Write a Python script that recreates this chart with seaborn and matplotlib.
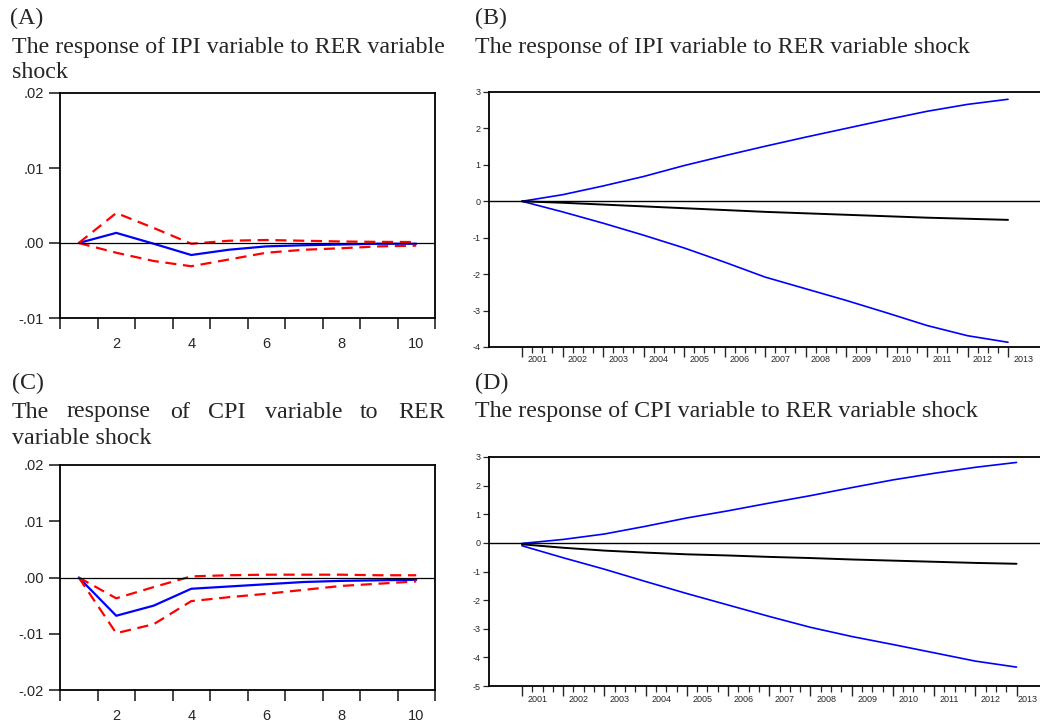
import matplotlib
matplotlib.use("Agg")
import matplotlib.pyplot as plt
import seaborn as sns
import numpy as np

# panel A / C: impulse responses over 10 periods
periods = [1, 2, 3, 4, 5, 6, 7, 8, 9, 10]
ipi_resp = [0, 0.00135, -0.0001, -0.0016, -0.0009, -0.00045, -0.0003, -0.0002, -0.0001, -0.0001]
ipi_upper = [0, 0.0040, 0.0020, -0.0001, 0.0003, 0.0004, 0.0003, 0.0002, 0.00015, 0.00013]
ipi_lower = [0, -0.0013, -0.0024, -0.0031, -0.0022, -0.0013, -0.0009, -0.0007, -0.00045, -0.00035]

cpi_resp = [0, -0.0068, -0.0050, -0.0020, -0.0016, -0.0012, -0.0008, -0.0006, -0.0005, -0.0004]
cpi_upper = [0, -0.0037, -0.0017, 0.0002, 0.0004, 0.0005, 0.0005, 0.0005, 0.0004, 0.0004]
cpi_lower = [0, -0.0099, -0.0083, -0.0042, -0.0035, -0.0029, -0.0022, -0.0015, -0.0011, -0.0007]

# panel B / D: yearly readings 2001..2013
years = [2001, 2002, 2003, 2004, 2005, 2006, 2007, 2008, 2009, 2010, 2011, 2012, 2013]
b_upper = [0, 0.18, 0.42, 0.68, 0.98, 1.25, 1.51, 1.76, 2.0, 2.24, 2.47, 2.66, 2.80]
b_lower = [0, -0.29, -0.6, -0.93, -1.28, -1.67, -2.08, -2.40, -2.72, -3.06, -3.41, -3.69, -3.87]
b_irf = [0, -0.04, -0.09, -0.14, -0.19, -0.24, -0.29, -0.33, -0.37, -0.41, -0.45, -0.48, -0.51]

d_upper = [-0.02, 0.12, 0.31, 0.58, 0.87, 1.12, 1.39, 1.65, 1.93, 2.2, 2.43, 2.64, 2.81]
d_lower = [-0.1, -0.52, -0.92, -1.35, -1.77, -2.17, -2.57, -2.95, -3.27, -3.55, -3.84, -4.13, -4.34]
d_irf = [-0.05, -0.17, -0.27, -0.34, -0.40, -0.44, -0.49, -0.53, -0.58, -0.62, -0.66, -0.70, -0.73]

W, H = 1040, 722
SERIF = ['Liberation Serif', 'DejaVu Serif']
SANS = ['Liberation Sans', 'DejaVu Sans']
NARROW = ['Liberation Sans Narrow', 'Liberation Sans', 'DejaVu Sans']

sns.set_style("white")
plt.rcParams['font.family'] = SANS


def rect(l, t, r, b):
    return [l / W, 1 - b / H, (r - l) / W, (b - t) / H]


def ftext(x, y, s, **kw):
    fig.text(x / W, 1 - y / H, s, family=SERIF, fontsize=17.3, va='center', ha='left', **kw)


def irf_panel(ax, resp, upper, lower, ylo, yticks, ylabels):
    sns.lineplot(x=periods, y=resp, ax=ax, color='#0000ff', lw=1.6)
    sns.lineplot(x=periods, y=upper, ax=ax, color='#ff0000', lw=1.6, linestyle=(0, (5, 3)))
    sns.lineplot(x=periods, y=lower, ax=ax, color='#ff0000', lw=1.6, linestyle=(0, (5, 3)))
    ax.axhline(0, color='black', lw=0.9)
    ax.set_xlim(0.5, 10.5)
    ax.set_ylim(ylo, 0.02)
    ax.set_yticks(yticks)
    ax.set_yticklabels(ylabels, fontsize=10.5)
    ax.set_xticks(np.arange(0.5, 11, 1))
    ax.set_xticklabels([])
    ax.set_xticks([2, 4, 6, 8, 10], minor=True)
    ax.set_xticklabels(['2', '4', '6', '8', '10'], minor=True, fontsize=10.5)
    ax.tick_params(axis='x', which='major', direction='out', length=8, width=1.2, bottom=True)
    ax.tick_params(axis='x', which='minor', length=0, pad=14, bottom=True)
    ax.tick_params(axis='y', direction='out', length=8, width=1.2, pad=3.5, left=True)
    for sp in ax.spines.values():
        sp.set_visible(True)
        sp.set_color('black')
        sp.set_linewidth(1.3)


def year_panel(ax, upper, lower, irf, ylo, yhi, xl, xr, hpx):
    sns.lineplot(x=years, y=upper, ax=ax, color='#0000ff', lw=1.2)
    sns.lineplot(x=years, y=lower, ax=ax, color='#0000ff', lw=1.2)
    sns.lineplot(x=years, y=irf, ax=ax, color='black', lw=1.4)
    ax.axhline(0, color='black', lw=1.0)
    ax.set_xlim(xl, xr)
    ax.set_ylim(ylo, yhi)
    ax.set_yticks(range(ylo, yhi + 1))
    ax.set_yticklabels([str(v) for v in range(ylo, yhi + 1)], fontsize=6.5, family=NARROW)
    ax.set_xticks(years)
    ax.set_xticklabels([])
    quarters = [y + q for y in years[:-1] for q in (0.25, 0.5, 0.75)]
    ax.set_xticks(quarters, minor=True)
    ax.tick_params(axis='x', which='major', direction='out', length=7, width=1.0, bottom=True)
    ax.tick_params(axis='x', which='minor', direction='out', length=4, width=0.9, bottom=True)
    ax.tick_params(axis='y', direction='out', length=4, width=0.9, pad=2, left=True)
    for y in years:
        # keep the last label inside the figure edge
        off = 0.38 if y < years[-1] else min(0.38, xr - y - 0.3)
        ax.text(y + off, -13 / hpx, str(y), transform=ax.get_xaxis_transform(),
                ha='center', va='center', fontsize=6.5, family=NARROW)
    for name in ('left', 'bottom', 'top'):
        ax.spines[name].set_visible(True)
        ax.spines[name].set_color('black')
        ax.spines[name].set_linewidth(1.3)
    ax.spines['right'].set_visible(False)
    ax.set_xlabel('')
    ax.set_ylabel('')


fig = plt.figure(figsize=(W / 100, H / 100), dpi=100)

ax_a = fig.add_axes(rect(60, 93, 435, 318))
irf_panel(ax_a, ipi_resp, ipi_upper, ipi_lower, -0.01,
          [-0.01, 0.0, 0.01, 0.02], ['-.01', '.00', '.01', '.02'])

ax_c = fig.add_axes(rect(60, 465, 435, 690))
irf_panel(ax_c, cpi_resp, cpi_upper, cpi_lower, -0.02,
          [-0.02, -0.01, 0.0, 0.01, 0.02], ['-.02', '-.01', '.00', '.01', '.02'])

ax_b = fig.add_axes(rect(489, 92, 1040, 347))
year_panel(ax_b, b_upper, b_lower, b_irf, -4, 3, 2000.185, 2013.79, 255)

ax_d = fig.add_axes(rect(489, 457, 1040, 686))
year_panel(ax_d, d_upper, d_lower, d_irf, -5, 3, 2000.2, 2013.57, 229)

# captions
ftext(4, 18, ' (A)')
ftext(12, 47, 'The response of IPI variable to RER variable')
ftext(12, 73, 'shock')
ftext(475, 18, '(B)')
ftext(475, 47, 'The response of IPI variable to RER variable shock')

ftext(12, 383, '(C)')
c_words = ['The', 'response', 'of', 'CPI', 'variable', 'to', 'RER']
c_word_x = [12, 67, 170, 208, 265, 360, 398]
for wx, w in zip(c_word_x, c_words):
    ftext(wx, 412, w)
ftext(12, 438, 'variable shock')
ftext(475, 383, '(D)')
ftext(475, 412, 'The response of CPI variable to RER variable shock')

fig.savefig('out.png', dpi=100)
